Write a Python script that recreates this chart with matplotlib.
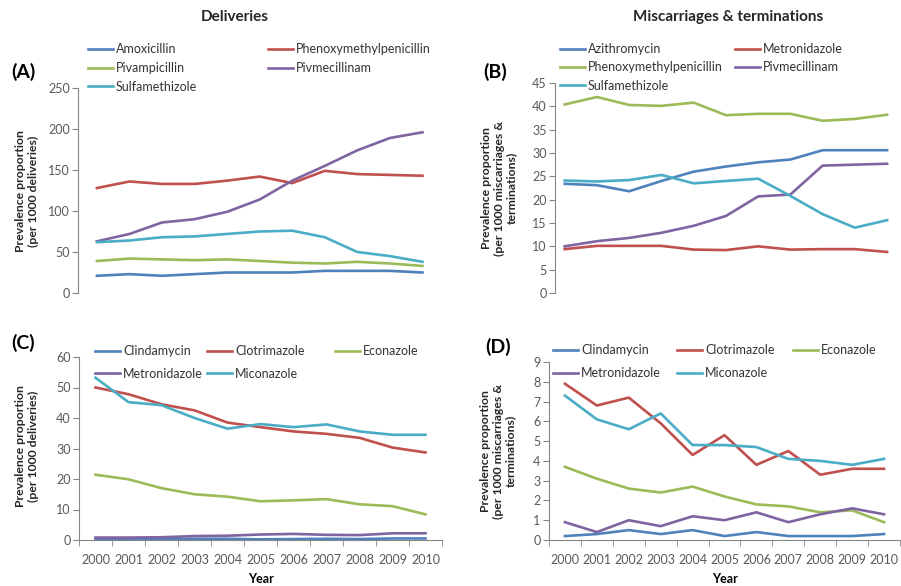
import numpy as np
import matplotlib
matplotlib.use("Agg")
import matplotlib.pyplot as plt

# data
# ---------------------------
years = np.arange(2000, 2011)

# (A) deliveries, per 1000 deliveries
a_names = ['Amoxicillin', 'Phenoxymethylpenicillin', 'Pivampicillin', 'Pivmecillinam', 'Sulfamethizole']
a_amoxicillin = [21, 23, 21, 23, 25, 25, 25, 27, 27, 27, 25]
a_phenoxy = [128, 136, 133, 133, 137, 142, 134, 149, 145, 144, 143]
a_pivampicillin = [39, 42, 41, 40, 41, 39, 37, 36, 38, 36, 33]
a_pivmecillinam = [63, 72, 86, 90, 99, 114, 137, 155, 174, 189, 196]
a_sulfamethizole = [62, 64, 68, 69, 72, 75, 76, 68, 50, 45, 38]

# (B) miscarriages & terminations
b_names = ['Azithromycin', 'Metronidazole', 'Phenoxymethylpenicillin', 'Pivmecillinam', 'Sulfamethizole']
b_azithromycin = [23.4, 23.1, 21.8, 24.0, 26.0, 27.1, 28.0, 28.6, 30.6, 30.6, 30.6]
b_metronidazole = [9.4, 10.1, 10.1, 10.1, 9.3, 9.2, 10.0, 9.3, 9.4, 9.4, 8.8]
b_phenoxy = [40.4, 42.0, 40.3, 40.1, 40.8, 38.1, 38.4, 38.4, 36.9, 37.3, 38.2]
b_pivmecillinam = [10.0, 11.1, 11.8, 12.9, 14.4, 16.5, 20.7, 21.1, 27.3, 27.5, 27.7]
b_sulfamethizole = [24.1, 23.9, 24.2, 25.3, 23.5, 24.0, 24.5, 20.8, 16.9, 14.0, 15.6]

# (C) deliveries, topical / vaginal
c_names = ['Clindamycin', 'Clotrimazole', 'Econazole', 'Metronidazole', 'Miconazole']
c_clindamycin = [0.3, 0.2, 0.3, 0.4, 0.4, 0.2, 0.3, 0.4, 0.3, 0.5, 0.5]
c_clotrimazole = [50.0, 47.8, 44.5, 42.5, 38.5, 37.0, 35.6, 34.8, 33.5, 30.3, 28.7]
c_econazole = [21.4, 19.9, 17.0, 15.0, 14.2, 12.7, 13.0, 13.4, 11.7, 11.1, 8.4]
c_metronidazole = [0.8, 0.8, 0.9, 1.3, 1.4, 1.8, 2.0, 1.7, 1.6, 2.2, 2.2]
c_miconazole = [53.2, 45.2, 44.2, 40.0, 36.5, 38.0, 37.0, 37.9, 35.6, 34.5, 34.5]

# (D) miscarriages & terminations, topical / vaginal
d_names = ['Clindamycin', 'Clotrimazole', 'Econazole', 'Metronidazole', 'Miconazole']
d_clindamycin = [0.2, 0.3, 0.5, 0.3, 0.5, 0.2, 0.4, 0.2, 0.2, 0.2, 0.3]
d_clotrimazole = [7.9, 6.8, 7.2, 5.9, 4.3, 5.3, 3.8, 4.5, 3.3, 3.6, 3.6]
d_econazole = [3.7, 3.1, 2.6, 2.4, 2.7, 2.2, 1.8, 1.7, 1.4, 1.5, 0.9]
d_metronidazole = [0.9, 0.4, 1.0, 0.7, 1.2, 1.0, 1.4, 0.9, 1.3, 1.6, 1.3]
d_miconazole = [7.3, 6.1, 5.6, 6.4, 4.8, 4.8, 4.7, 4.1, 4.0, 3.8, 4.1]

# styling
# -------
colors = ['#4F81BD', '#C0504D', '#9BBB59', '#8064A2', '#4BACC6']
axisCol = '#868686'
tickCol = '#595959'
lw = 1.9
legFs = 9
tickFs = 9

plt.rcParams['font.family'] = ['Lato', 'DejaVu Sans']

W, H = 901, 586
fig = plt.figure(figsize=(W / 100, H / 100), dpi=100)
fig.patch.set_facecolor('white')


def fx(px):
    return px / W


def fy(py):
    return 1 - py / H


def add_axes(left, top, right, bottom):
    return fig.add_axes([fx(left), fy(bottom), fx(right - left), (bottom - top) / H])


def style_axes(ax, ymax, ystep, xlim, show_x):
    ax.set_xlim(xlim)
    ax.set_ylim(0, ymax)
    ax.set_yticks(np.arange(0, ymax + ystep / 2, ystep))
    for s in ['top', 'right']:
        ax.spines[s].set_visible(False)
    ax.spines['left'].set_color(axisCol)
    ax.spines['bottom'].set_color(axisCol)
    ax.tick_params(axis='y', direction='out', length=4, color=axisCol,
                   labelcolor=tickCol, labelsize=tickFs, pad=2)
    if show_x:
        ax.set_xticks(years)
        ax.set_xticklabels([str(y) for y in years])
        ax.set_xticks(np.arange(1999.5, 2011, 1.0), minor=True)
        ax.tick_params(axis='x', which='major', length=0, labelcolor=tickCol,
                       labelsize=tickFs, pad=10)
        ax.tick_params(axis='x', which='minor', direction='out', length=4, color=axisCol)
        ax.set_xlabel('Year', fontsize=9, fontweight='bold', labelpad=5)
    else:
        ax.spines['bottom'].set_visible(False)
        ax.set_xticks([])


def column_legends(ax, lines, names, cols, starts, row1_y, spacing):
    # one single column legend per legend column, like the excel layout
    for k, (idx, x0) in enumerate(zip(cols, starts)):
        leg = ax.legend([lines[i] for i in idx], [names[i] for i in idx],
                        loc='upper left', bbox_to_anchor=(fx(x0), fy(row1_y - 8)),
                        bbox_transform=fig.transFigure, frameon=False,
                        fontsize=legFs, handlelength=2.0, handletextpad=0.25,
                        borderpad=0, borderaxespad=0, labelspacing=spacing)
        for t in leg.get_texts():
            t.set_color('#333333')
        if k < len(cols) - 1:
            ax.add_artist(leg)


# (A)
axA = add_axes(78, 88, 442, 293)
seriesA = [a_amoxicillin, a_phenoxy, a_pivampicillin, a_pivmecillinam, a_sulfamethizole]
linesA = [axA.plot(years, s, color=colors[i], lw=lw)[0] for i, s in enumerate(seriesA)]
style_axes(axA, 250, 50, (1999.42, 2010.6), False)
column_legends(axA, linesA, a_names, [[0, 2, 4], [1, 3]], [88, 268], 51, 0.55)

# (B)
axB = add_axes(555, 83, 900, 293)
seriesB = [b_azithromycin, b_metronidazole, b_phenoxy, b_pivmecillinam, b_sulfamethizole]
linesB = [axB.plot(years, s, color=colors[i], lw=lw)[0] for i, s in enumerate(seriesB)]
style_axes(axB, 45, 5, (1999.7, 2010.4), False)
column_legends(axB, linesB, b_names, [[0, 2, 4], [1, 3]], [560, 735], 51, 0.5)

# (C)
axC = add_axes(79, 357, 442, 540)
seriesC = [c_clindamycin, c_clotrimazole, c_econazole, c_metronidazole, c_miconazole]
linesC = [axC.plot(years, s, color=colors[i], lw=lw, clip_on=False)[0] for i, s in enumerate(seriesC)]
style_axes(axC, 60, 10, (1999.5, 2010.5), True)
column_legends(axC, linesC, c_names, [[0, 3], [1, 4], [2]], [95, 207, 335], 353, 0.85)

# (D)
axD = add_axes(549, 362, 900, 540)
seriesD = [d_clindamycin, d_clotrimazole, d_econazole, d_metronidazole, d_miconazole]
linesD = [axD.plot(years, s, color=colors[i], lw=lw, clip_on=False)[0] for i, s in enumerate(seriesD)]
style_axes(axD, 9, 1, (1999.5, 2010.47), True)
column_legends(axD, linesD, d_names, [[0, 3], [1, 4], [2]], [553, 677, 793], 352, 0.9)

# y labels, panel letters, column titles
# --------------------------------------
ylab_kw = dict(rotation=90, ha='center', va='center', fontsize=8.8,
               fontweight='bold', color='#262626', linespacing=1.15)
fig.text(fx(27), fy(191), 'Prevalence proportion\n(per 1000 deliveries)', **ylab_kw)
fig.text(fx(499), fy(188), 'Prevalence proportion\n(per 1000 miscarriages &\nterminations)', **ylab_kw)
fig.text(fx(27), fy(446), 'Prevalence proportion\n(per 1000 deliveries)', **ylab_kw)
fig.text(fx(498), fy(451), 'Prevalence proportion\n(per 1000 miscarriages &\nterminations)', **ylab_kw)

letter_kw = dict(ha='left', va='center', fontsize=14, fontweight='bold', color='black')
fig.text(fx(11), fy(72), '(A)', **letter_kw)
fig.text(fx(483), fy(72), '(B)', **letter_kw)
fig.text(fx(11), fy(343), '(C)', **letter_kw)
fig.text(fx(485), fy(347), '(D)', **letter_kw)

title_kw = dict(ha='center', va='center', fontsize=11, fontweight='bold', color='#262626')
fig.text(fx(235), fy(17), 'Deliveries', **title_kw)
fig.text(fx(728), fy(17), 'Miscarriages & terminations', **title_kw)

fig.savefig('out.png', dpi=100)
